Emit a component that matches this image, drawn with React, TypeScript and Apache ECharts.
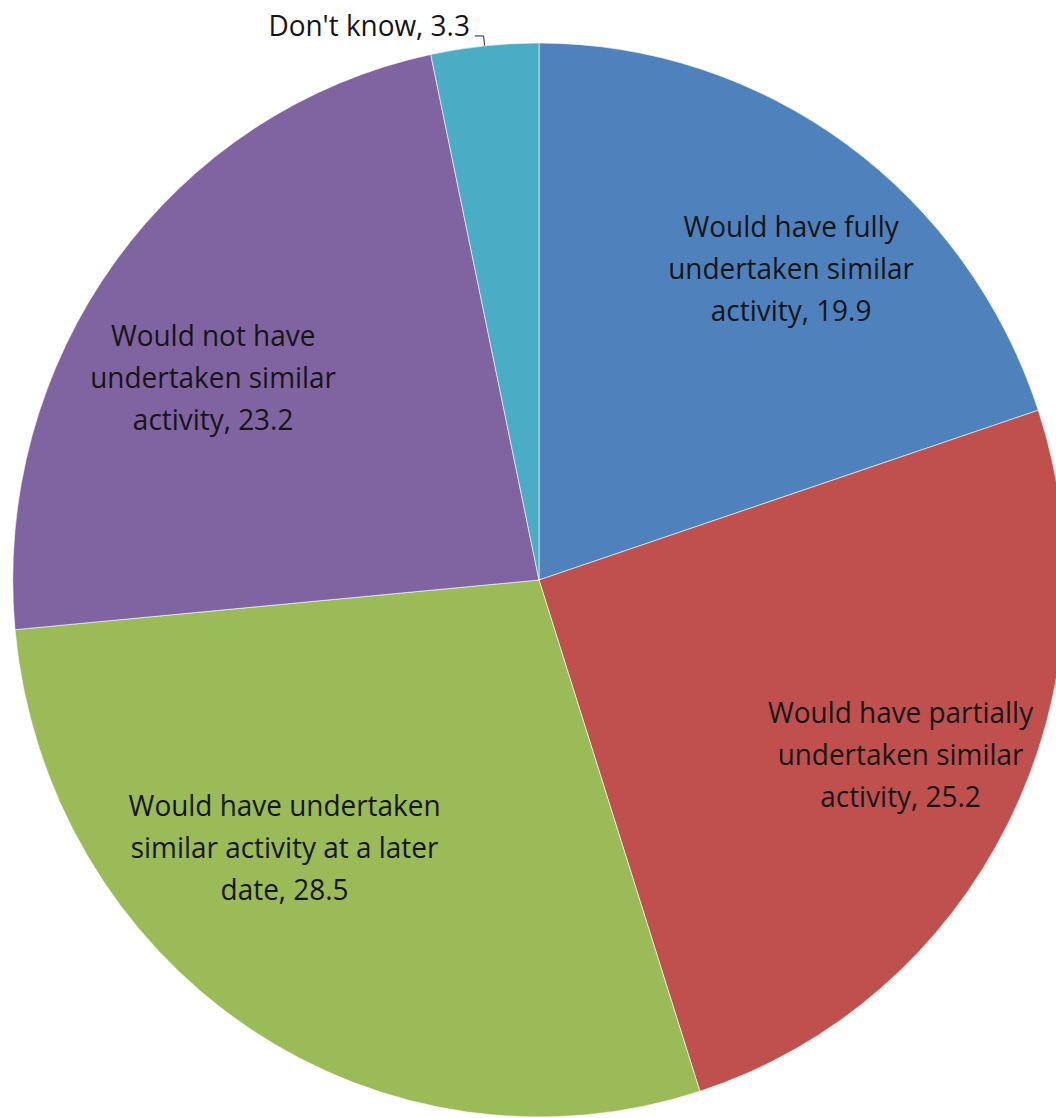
import React, { useEffect, useRef } from "react";
import * as echarts from "echarts";

// Survey answers: what the firm would have done without the support (per cent)
const categories: string[] = [
  "Would have fully\nundertaken similar\nactivity",
  "Would have partially\nundertaken similar\nactivity",
  "Would have undertaken\nsimilar activity at a later\ndate",
  "Would not have\nundertaken similar\nactivity",
  "Don't know",
];
const shares: number[] = [19.9, 25.2, 28.5, 23.2, 3.3];
const sliceColors: string[] = ["#4F81BD", "#C0504D", "#9BBB59", "#8064A2", "#4BACC6"];

// Small nudges for the in-slice labels (px)
const labelNudge: [number, number][] = [
  [20, 17],
  [7, -10],
  [-36, -72],
  [-6, 38],
  [0, -11],
];

const CENTER: [number, number] = [539, 580];
const RADIUS = 537;
// the pie is drawn slightly narrower than tall
const SQUEEZE_X = 0.98;
const FONT = "'Open Sans', 'Noto Sans', sans-serif";

export default function App() {
  const ref = useRef<HTMLDivElement>(null);

  useEffect(() => {
    if (!ref.current) return;
    const chart = echarts.init(ref.current, undefined, { renderer: "svg" });
    const pieData = categories.map((name, i) => ({
      name,
      value: shares[i],
      itemStyle: { color: sliceColors[i] },
    }));
    const labelData = categories.map((name, i) => {
      const outside = i === categories.length - 1;
      return {
        name,
        value: shares[i],
        label: outside
          ? { position: "outside", alignTo: "none" }
          : { position: "inside" },
        labelLine: outside
          ? { show: true, length: 10, length2: 9, lineStyle: { color: "#222", width: 1 } }
          : { show: false },
      };
    });

    chart.setOption({
      animation: false,
      backgroundColor: "#ffffff",
      series: [
        {
          type: "pie",
          center: CENTER,
          radius: [0, RADIUS],
          startAngle: 90,
          clockwise: true,
          silent: true,
          label: { show: false },
          labelLine: { show: false },
          itemStyle: { borderColor: "rgba(255,255,255,0.6)", borderWidth: 1 },
          data: pieData,
        },
        {
          // transparent ring that only carries the labels
          type: "pie",
          center: CENTER,
          radius: [RADIUS / 2, RADIUS],
          startAngle: 90,
          clockwise: true,
          silent: true,
          avoidLabelOverlap: false,
          itemStyle: { color: "rgba(0,0,0,0)" },
          label: {
            show: true,
            formatter: "{b}, {c}",
            color: "#151515",
            fontFamily: FONT,
            fontSize: 28.5,
            lineHeight: 42,
            align: "center",
          },
          labelLayout: (p: any) => {
            const n = labelNudge[p.dataIndex] || [0, 0];
            return { dx: n[0], dy: n[1] };
          },
          data: labelData,
        },
      ],
    });
    return () => chart.dispose();
  }, []);

  return (
    <div
      style={{
        position: "absolute",
        left: 0,
        top: 0,
        width: 1056,
        height: 1118,
        overflow: "hidden",
        background: "#ffffff",
      }}
    >
      <div
        ref={ref}
        style={{
          position: "absolute",
          left: 0,
          top: 0,
          width: 1100,
          height: 1118,
          transform: `scaleX(${SQUEEZE_X})`,
          transformOrigin: `${CENTER[0]}px 0px`,
        }}
      />
    </div>
  );
}
